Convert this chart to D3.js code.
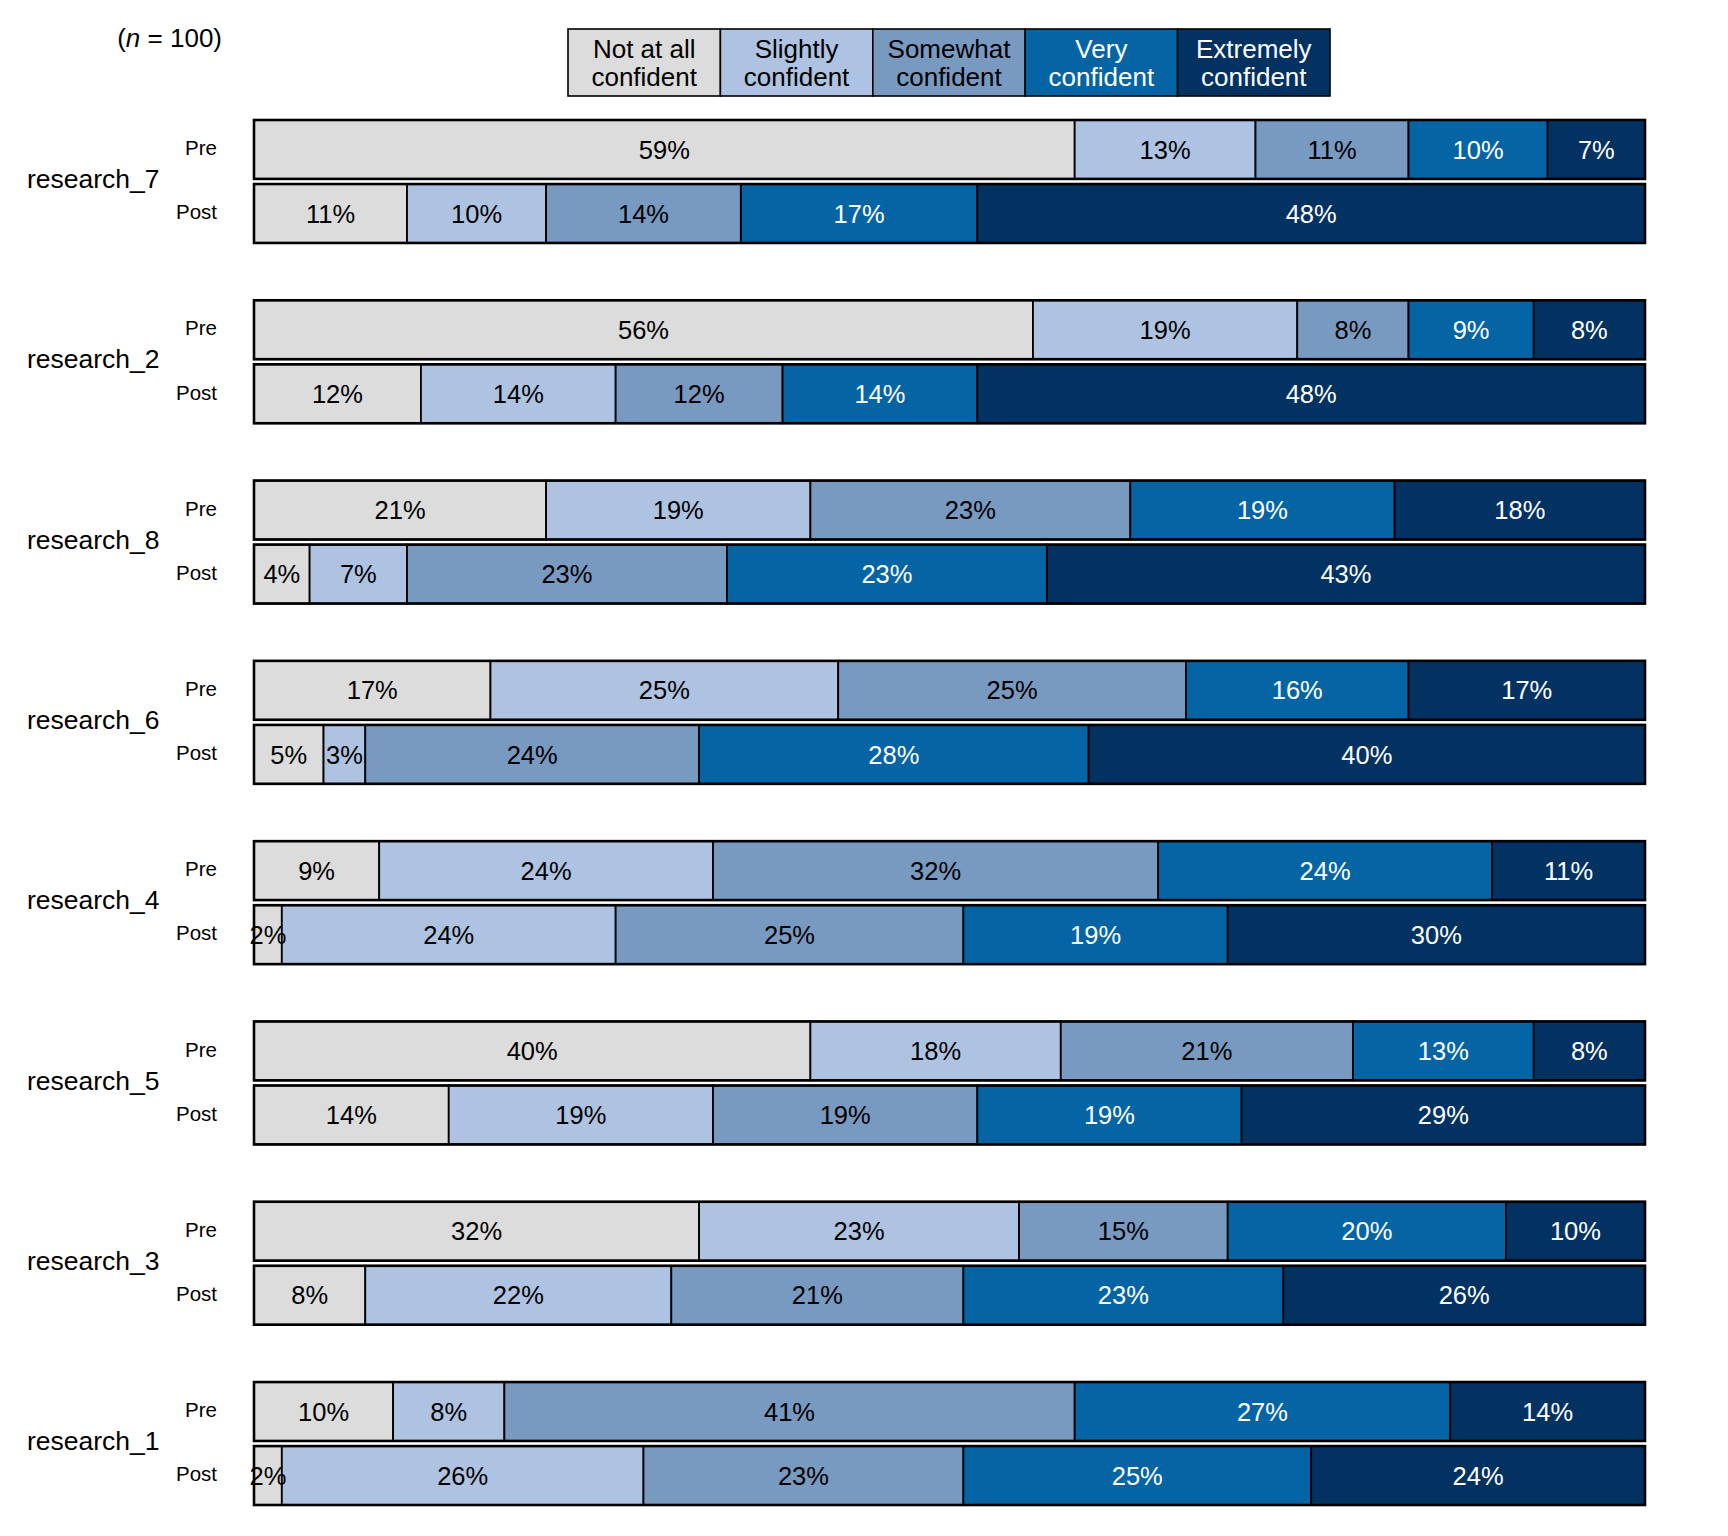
<!DOCTYPE html>
<html>
<head>
<meta charset="utf-8">
<script src="https://cdn.jsdelivr.net/npm/d3@7"></script>
<style>
  body { margin: 0; background: #fff; }
  svg { display: block; font-family: "Liberation Sans", Arial, sans-serif; }
</style>
</head>
<body>
<svg id="chart"></svg>
<script>
// levels, colours of the likert scale
const levels = ["Not at all confident", "Slightly confident", "Somewhat confident", "Very confident", "Extremely confident"];
const legendLines = [["Not at all", "confident"], ["Slightly", "confident"], ["Somewhat", "confident"], ["Very", "confident"], ["Extremely", "confident"]];
const colors = ["#dcdcdc", "#aec3e1", "#7899c0", "#0565a4", "#023262"];
const textColors = ["#000", "#000", "#000", "#fff", "#fff"];

// items top to bottom, and the two times
const items = ["research_7", "research_2", "research_8", "research_6", "research_4", "research_5", "research_3", "research_1"];
const times = ["Pre", "Post"];

// percent per level, one array per item and time
const pre = {
    research_7: [59, 13, 11, 10, 7],
    research_2: [56, 19, 8, 9, 8],
    research_8: [21, 19, 23, 19, 18],
    research_6: [17, 25, 25, 16, 17],
    research_4: [9, 24, 32, 24, 11],
    research_5: [40, 18, 21, 13, 8],
    research_3: [32, 23, 15, 20, 10],
    research_1: [10, 8, 41, 27, 14]
};
const post = {
    research_7: [11, 10, 14, 17, 48],
    research_2: [12, 14, 12, 14, 48],
    research_8: [4, 7, 23, 23, 43],
    research_6: [5, 3, 24, 28, 40],
    research_4: [2, 24, 25, 19, 30],
    research_5: [14, 19, 19, 19, 29],
    research_3: [8, 22, 21, 23, 26],
    research_1: [2, 26, 23, 25, 24]
};
const sampleSize = 100;

const width = 1728, height = 1536;
const svg = d3.select('#chart').attr('width', width).attr('height', height);

const x = d3.scaleLinear().domain([0, 100]).range([254, 1645]);
const yItem = d3.scaleBand().domain(items).range([120, 1505]).paddingInner(0.318).paddingOuter(0);
const yTime = d3.scaleBand().domain(times).range([0, yItem.bandwidth()]).paddingInner(0.08);

const rows = [];
items.forEach(item => {
    times.forEach(t => {
        const vals = t === 'Pre' ? pre[item] : post[item];
        let acc = 0;
        const segs = vals.map((v, i) => {
            const s = { item, time: t, level: i, value: v, x0: acc, x1: acc + v };
            acc += v;
            return s;
        });
        rows.push({ item, time: t, segs, total: acc });
    });
});

const rowG = svg.selectAll('.row')
    .data(rows)
    .enter()
    .append('g')
    .attr('class', 'row')
    .attr('transform', d => `translate(0,${yItem(d.item) + yTime(d.time)})`);

rowG.selectAll('rect.seg')
    .data(d => d.segs)
    .enter()
    .append('rect')
    .attr('class', 'seg')
    .attr('x', d => x(d.x0))
    .attr('y', 0)
    .attr('width', d => x(d.x1) - x(d.x0))
    .attr('height', yTime.bandwidth())
    .attr('fill', d => colors[d.level])
    .attr('stroke', '#000')
    .attr('stroke-width', 1.8);

// outline of whole bar
rowG.append('rect')
    .attr('x', x(0))
    .attr('y', 0)
    .attr('width', d => x(d.total) - x(0))
    .attr('height', yTime.bandwidth())
    .attr('fill', 'none')
    .attr('stroke', '#000')
    .attr('stroke-width', 2.6);

rowG.selectAll('text.pct')
    .data(d => d.segs)
    .enter()
    .append('text')
    .attr('class', 'pct')
    .attr('x', d => (x(d.x0) + x(d.x1)) / 2)
    .attr('y', yTime.bandwidth() / 2)
    .attr('dy', '0.36em')
    .attr('text-anchor', 'middle')
    .style('font-size', '25.5px')
    .attr('fill', d => textColors[d.level])
    .text(d => `${d.value}%`);

// Pre / Post labels
rowG.append('text')
    .attr('x', 217)
    .attr('y', yTime.bandwidth() / 2)
    .attr('dy', '0.28em')
    .attr('text-anchor', 'end')
    .style('font-size', '20.5px')
    .attr('fill', '#000')
    .text(d => d.time);

// item labels
svg.selectAll('.item-label')
    .data(items)
    .enter()
    .append('text')
    .attr('class', 'item-label')
    .attr('x', 27)
    .attr('y', d => yItem(d) + yItem.bandwidth() / 2)
    .attr('dy', '0.25em')
    .style('font-size', '26.5px')
    .attr('fill', '#000')
    .text(d => d);

// sample size
const nText = svg.append('text')
    .attr('x', 222)
    .attr('y', 47)
    .attr('text-anchor', 'end')
    .style('font-size', '26px')
    .attr('fill', '#000');
nText.append('tspan').text('(');
nText.append('tspan').style('font-style', 'italic').text('n');
nText.append('tspan').text(` = ${sampleSize})`);

// legend
const legX = d3.scaleBand().domain(levels).range([568, 1330]);
const legTop = 29, legH = 67;
const leg = svg.selectAll('.leg')
    .data(levels)
    .enter()
    .append('g')
    .attr('class', 'leg')
    .attr('transform', d => `translate(${legX(d)},${legTop})`);

leg.append('rect')
    .attr('width', legX.bandwidth())
    .attr('height', legH)
    .attr('fill', (d, i) => colors[i])
    .attr('stroke', '#000')
    .attr('stroke-width', 1.6);

leg.each(function (d, i) {
    const g = d3.select(this);
    legendLines[i].forEach((line, j) => {
        g.append('text')
            .attr('x', legX.bandwidth() / 2)
            .attr('y', 28.5 + j * 28.8)
            .attr('text-anchor', 'middle')
            .style('font-size', '26px')
            .attr('fill', textColors[i])
            .text(line);
    });
});
</script>
</body>
</html>
